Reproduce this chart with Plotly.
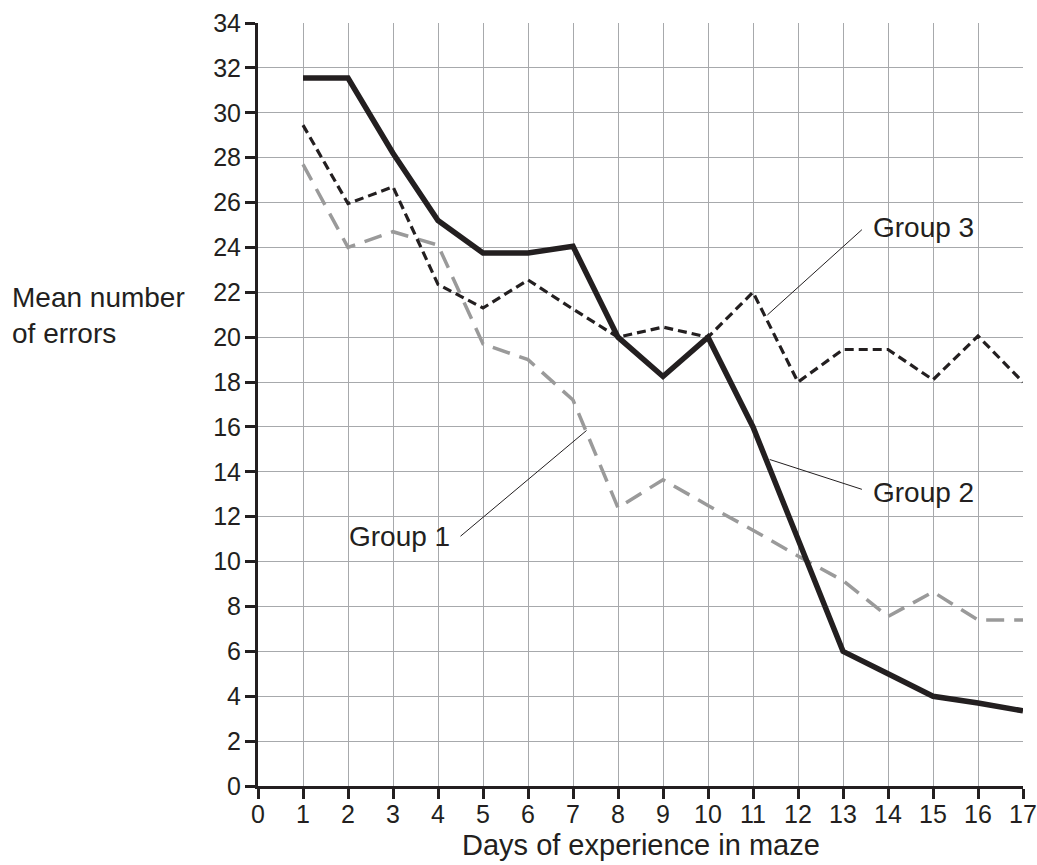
import plotly.graph_objects as go

days = list(range(1, 18))
group1 = [27.7, 24.0, 24.7, 24.1, 19.7, 19.0, 17.2, 12.4, 13.65, 12.5, 11.4, 10.25, 9.15, 7.55, 8.65, 7.4, 7.4]
group2 = [31.55, 31.55, 28.2, 25.2, 23.75, 23.75, 24.05, 20.0, 18.25, 20.0, 16.0, 11.0, 6.0, 5.0, 4.0, 3.7, 3.35]
group3 = [29.45, 25.95, 26.7, 22.35, 21.3, 22.55, 21.25, 20.0, 20.45, 20.0, 22.0, 18.0, 19.45, 19.45, 18.1, 20.05, 18.0]

x_ticks = list(range(0, 18))
y_ticks = list(range(0, 35, 2))

labels = ["Group 1", "Group 2", "Group 3"]
label_pos = [(3.15, 11.1), (14.78, 13.1), (14.78, 24.9)]
leader_lines = [((4.5, 11.13), (7.3, 15.84)), ((13.42, 13.22), (11.37, 14.55)), ((13.42, 24.79), (11.32, 20.99))]

FONT = "Liberation Sans, Arial, sans-serif"
INK = "#231f20"

fig = go.Figure()
fig.add_trace(go.Scatter(x=days, y=group1, mode="lines", name="Group 1",
                         line=dict(color="#9a9a9a", width=3.5, dash="18px,10px")))
fig.add_trace(go.Scatter(x=days, y=group3, mode="lines", name="Group 3",
                         line=dict(color=INK, width=3.2, dash="9px,5px")))
fig.add_trace(go.Scatter(x=days, y=group2, mode="lines", name="Group 2",
                         line=dict(color=INK, width=5.5)))

for (p0, p1) in leader_lines:
    fig.add_shape(type="line", x0=p0[0], y0=p0[1], x1=p1[0], y1=p1[1],
                  xref="x", yref="y", line=dict(color=INK, width=1))

for lab, (lx, ly) in zip(labels, label_pos):
    fig.add_annotation(x=lx, y=ly, xref="x", yref="y", text=lab, showarrow=False,
                       font=dict(family=FONT, size=28, color=INK))

fig.add_annotation(x=-0.3246, y=0.617, xref="paper", yref="paper",
                   text="Mean number<br>of errors", showarrow=False, align="left",
                   xanchor="left", yanchor="middle",
                   font=dict(family=FONT, size=28, color=INK))
fig.add_annotation(x=0.5, y=-0.077, xref="paper", yref="paper",
                   text="Days of experience in maze", showarrow=False,
                   xanchor="center", yanchor="middle",
                   font=dict(family=FONT, size=29, color=INK))

fig.update_layout(
    width=1037, height=865,
    margin=dict(l=258, r=14, t=23, b=79),
    paper_bgcolor="white", plot_bgcolor="white",
    showlegend=False,
    font=dict(family=FONT, size=25, color=INK),
)
axis_style = dict(showgrid=True, gridcolor="#a7a9ac", gridwidth=1.3,
                  showline=True, linecolor=INK, linewidth=3,
                  ticks="outside", ticklen=10, tickwidth=2.5, tickcolor=INK,
                  zeroline=False, automargin=False,
                  tickfont=dict(family=FONT, size=25, color=INK))
fig.update_xaxes(range=[0, 17], tickvals=x_ticks, ticktext=[str(v) for v in x_ticks],
                 ticklabelstandoff=-6, **axis_style)
fig.update_yaxes(range=[0, 34], tickvals=y_ticks, ticktext=[str(v) for v in y_ticks],
                 ticklabelstandoff=-1, **axis_style)

fig.write_html("out.html", config={"displayModeBar": False},
               post_script="document.body.style.margin='0';document.body.style.overflow='hidden';")
